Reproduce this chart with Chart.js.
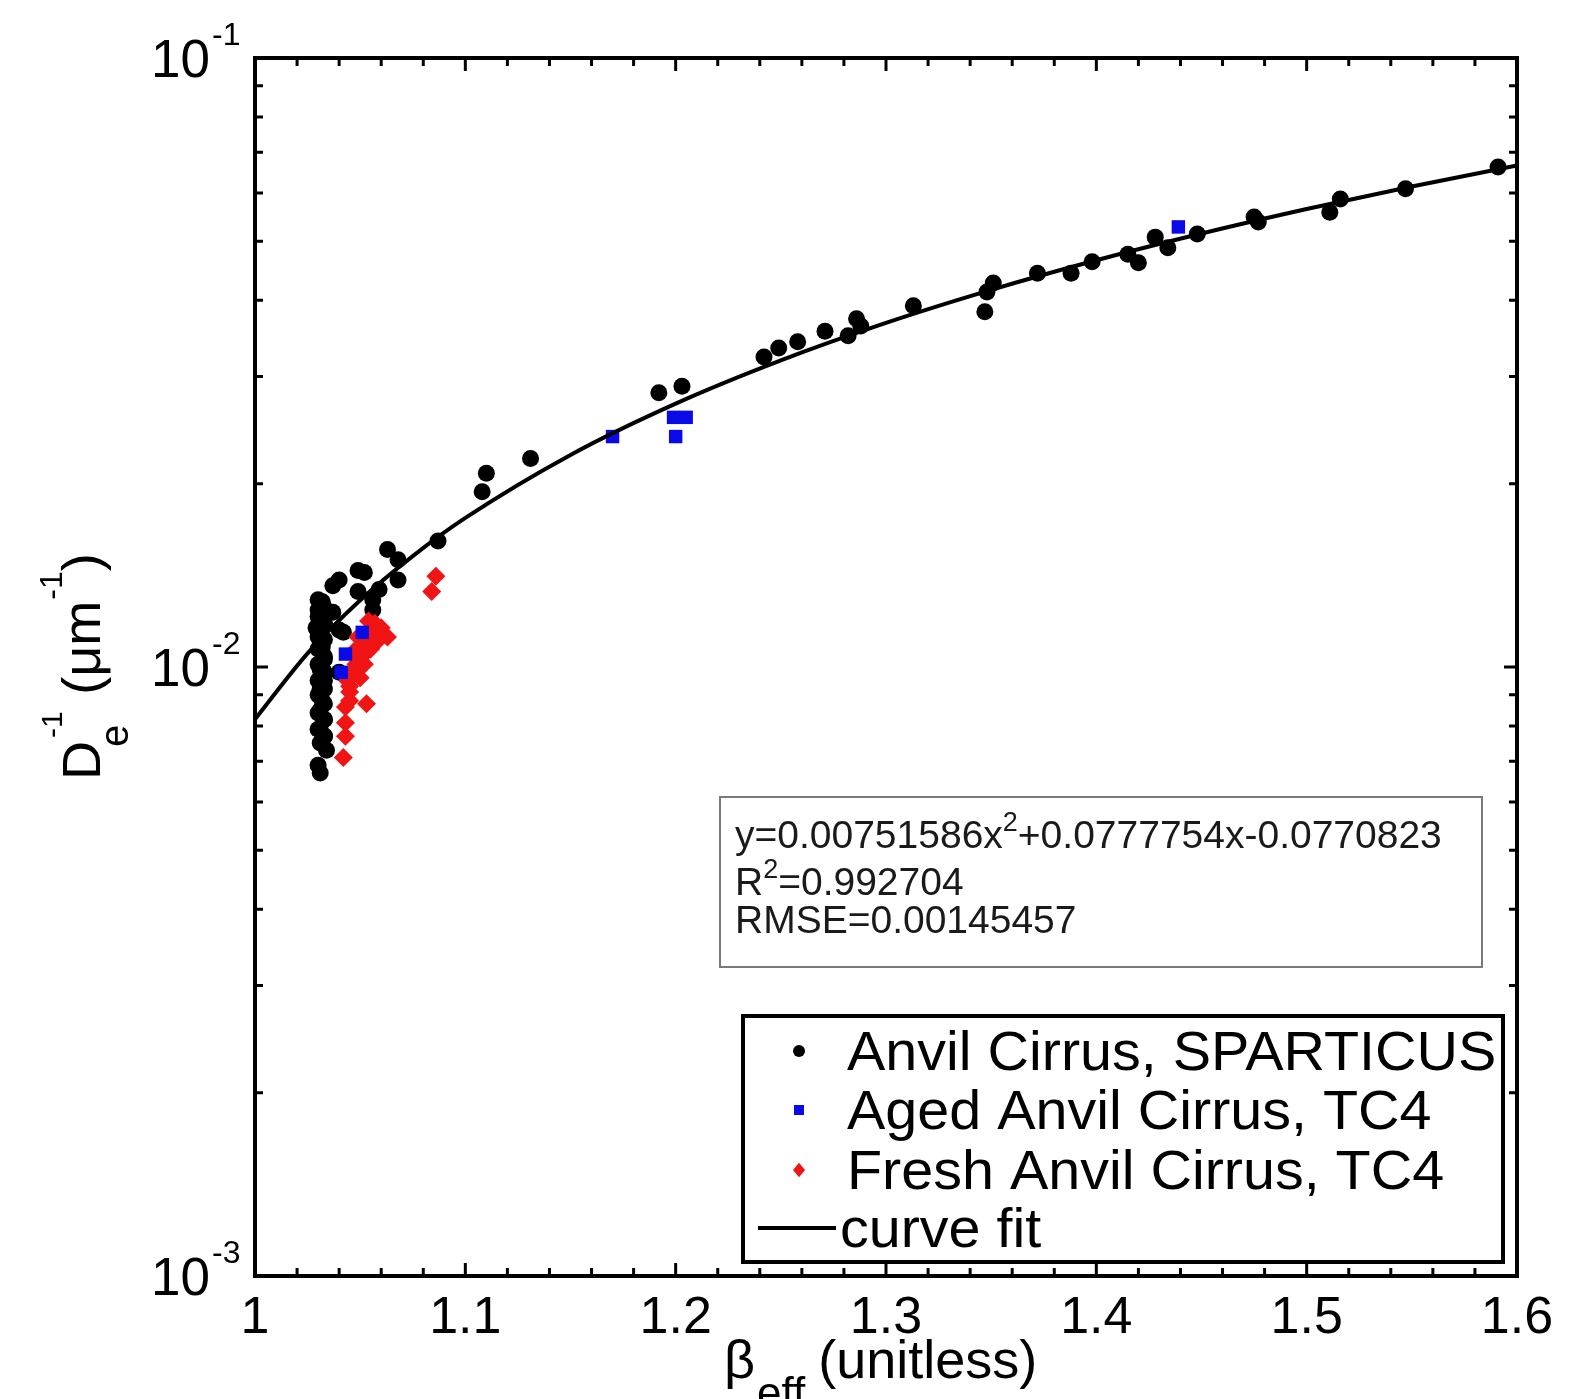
<!DOCTYPE html>
<html lang="en">
<head>
<meta charset="UTF-8" />
<title>De-1 vs beta_eff</title>
<script src="https://cdn.jsdelivr.net/npm/chart.js"></script>
<style>
  html, body { margin: 0; padding: 0; background: #fff; }
  #wrap { width: 1585px; height: 1399px; }
</style>
</head>
<body>
<div id="wrap"><canvas id="chart" width="1585" height="1399"></canvas></div>
<script>
  // values
  const sparticusX = [1.591, 1.547, 1.516, 1.511, 1.475, 1.477, 1.448, 1.428, 1.434, 1.415, 1.420, 1.398, 1.388, 1.372,
    1.351, 1.348, 1.347, 1.313, 1.286, 1.288, 1.282, 1.271, 1.258, 1.249, 1.242, 1.203, 1.192, 1.131, 1.110, 1.108,
    1.087, 1.063, 1.068, 1.068, 1.049, 1.052, 1.040, 1.037, 1.049, 1.059, 1.056, 1.032, 1.030, 1.037, 1.056, 1.032,
    1.040, 1.042, 1.030, 1.029, 1.032, 1.031, 1.033, 1.031, 1.033, 1.031, 1.032, 1.031, 1.033, 1.031, 1.033, 1.034,
    1.030, 1.031, 1.040,
    1.030, 1.033, 1.030, 1.033, 1.030, 1.033, 1.030, 1.033, 1.030, 1.033, 1.030, 1.033, 1.030, 1.033, 1.030, 1.033,
    1.030, 1.033, 1.031];
  const sparticusY = [0.0662, 0.0610, 0.0587, 0.0558, 0.0548, 0.0538, 0.0514, 0.0508, 0.0488, 0.0476, 0.0461, 0.0463, 0.0443, 0.0443,
    0.0427, 0.0413, 0.0383, 0.0392, 0.0373, 0.0363, 0.0350, 0.0356, 0.0342, 0.0334, 0.0323, 0.0289, 0.0282, 0.0220, 0.0208, 0.0194,
    0.0161, 0.0156, 0.0150, 0.0139, 0.0144, 0.0143, 0.0139, 0.0136, 0.0133, 0.0134, 0.0129, 0.0128, 0.0124, 0.0123, 0.0124, 0.0118,
    0.0115, 0.0114, 0.0112, 0.0116, 0.0108, 0.0107, 0.0103, 0.0099, 0.0095, 0.0092, 0.0088, 0.0085, 0.0082, 0.0079, 0.0077, 0.0073,
    0.0069, 0.0067, 0.0098,
    0.0129, 0.0125, 0.0121, 0.0118, 0.0114, 0.0111, 0.0107, 0.0104, 0.0101, 0.0098, 0.0095, 0.0092, 0.0090, 0.0087, 0.0084, 0.0082,
    0.0079, 0.0077, 0.0075];

  const agedX = [1.439, 1.199, 1.205, 1.200, 1.170, 1.051, 1.043, 1.041];
  const agedY = [0.0528, 0.0257, 0.0257, 0.0239, 0.0239, 0.0114, 0.0105, 0.0098];

  const freshX = [1.086, 1.084, 1.054, 1.058, 1.063, 1.059, 1.056, 1.051, 1.053, 1.052, 1.050, 1.048, 1.048,
    1.050, 1.045, 1.045, 1.045, 1.043, 1.053, 1.043, 1.043, 1.042,
    1.047, 1.055, 1.049, 1.046, 1.052, 1.044, 1.060, 1.057];
  const freshY = [0.0141, 0.0133, 0.0119, 0.0115, 0.0112, 0.0111, 0.0113, 0.0108, 0.0110, 0.0105, 0.0103, 0.0101, 0.0099,
    0.0096, 0.0093, 0.0091, 0.0088, 0.0086, 0.0087, 0.0081, 0.0077, 0.0071,
    0.0106, 0.0107, 0.0112, 0.0098, 0.0101, 0.0095, 0.0116, 0.0118];

  const fitX = [1.00, 1.025, 1.05, 1.075, 1.10, 1.15, 1.20, 1.25, 1.30, 1.35, 1.40, 1.45, 1.50, 1.55, 1.60];
  const fitY = [0.00821, 0.01053, 0.01287, 0.01521, 0.01757, 0.02230, 0.02707, 0.03188, 0.03673, 0.04161,
    0.04654, 0.05149, 0.05649, 0.06153, 0.06660];

  const xTicks = [1, 1.1, 1.2, 1.3, 1.4, 1.5, 1.6];
  const xTickLabels = ['1', '1.1', '1.2', '1.3', '1.4', '1.5', '1.6'];
  const yTicks = [0.001, 0.01, 0.1];
  const yTickExp = ['-3', '-2', '-1'];

  const FONT = '"Liberation Sans", Arial, Helvetica, sans-serif';
  const pts = (xs, ys) => xs.map((v, i) => ({ x: v, y: ys[i] }));

  // text with sub/superscripts, drawn piece by piece
  function rich(ctx, parts, x, y) {
    let cx = x;
    parts.forEach(p => {
      ctx.font = p.size + 'px ' + FONT;
      ctx.fillText(p.t, cx + (p.dx || 0), y + (p.dy || 0));
      if (!p.keep) cx += (p.dx || 0) + ctx.measureText(p.t).width;
    });
    return cx;
  }

  function marker(ctx, style, x, y, r, color) {
    ctx.fillStyle = color;
    ctx.beginPath();
    if (style === 'circle') ctx.arc(x, y, r, 0, Math.PI * 2);
    else if (style === 'rect') ctx.rect(x - r, y - r, 2 * r, 2 * r);
    else { ctx.moveTo(x, y - r * 1.2); ctx.lineTo(x + r, y); ctx.lineTo(x, y + r * 1.2); ctx.lineTo(x - r, y); ctx.closePath(); }
    ctx.fill();
  }

  const frame = {
    id: 'frame',
    afterDatasetsDraw(chart) {
      const { ctx, chartArea: a, scales: { x, y } } = chart;
      ctx.save();
      ctx.strokeStyle = '#000';
      ctx.lineWidth = 3;
      ctx.beginPath();
      const xt = (v, len) => {
        const px = x.getPixelForValue(v);
        ctx.moveTo(px, a.bottom); ctx.lineTo(px, a.bottom - len);
        ctx.moveTo(px, a.top); ctx.lineTo(px, a.top + len);
      };
      const yt = (v, len) => {
        const py = y.getPixelForValue(v);
        ctx.moveTo(a.left, py); ctx.lineTo(a.left + len, py);
        ctx.moveTo(a.right, py); ctx.lineTo(a.right - len, py);
      };
      for (let i = 1; i < 30; i++) if (i % 5) xt(1 + i * 0.02, 8);
      xTicks.forEach(v => xt(v, 13));
      for (let e = -3; e < -1; e++) for (let m = 2; m <= 9; m++) yt(m * Math.pow(10, e), 8);
      yTicks.forEach(v => yt(v, 13));
      ctx.stroke();
      ctx.lineWidth = 4;
      ctx.strokeRect(a.left, a.top, a.right - a.left, a.bottom - a.top);
      ctx.restore();
    },
    afterDraw(chart) {
      const { ctx, chartArea: a, scales: { x, y } } = chart;
      ctx.save();
      ctx.fillStyle = '#000';
      ctx.textBaseline = 'alphabetic';

      // x tick labels
      ctx.font = '52px ' + FONT;
      ctx.textAlign = 'center';
      xTicks.forEach((v, i) => ctx.fillText(xTickLabels[i], x.getPixelForValue(v), a.bottom + 57));

      // y tick labels 10^n
      yTicks.forEach((v, i) => {
        const py = y.getPixelForValue(v);
        ctx.font = '53px ' + FONT;
        ctx.textAlign = 'right';
        ctx.fillText('10', a.left - 45, py + 19);
        ctx.font = '32px ' + FONT;
        ctx.textAlign = 'left';
        ctx.fillText(yTickExp[i], a.left - 43, py - 13);
      });

      // x title
      ctx.textAlign = 'left';
      rich(ctx, [
        { t: 'β', size: 54 },
        { t: 'eff', size: 44, dy: 30, dx: 2 },
        { t: ' (unitless)', size: 54, dx: -2 }
      ], 724, 1378);

      // y title (rotated)
      ctx.save();
      ctx.translate(100, 780);
      ctx.rotate(-Math.PI / 2);
      rich(ctx, [
        { t: 'D', size: 54 },
        { t: '-1', size: 30, dy: -38, dx: 3, keep: true },
        { t: 'e', size: 40, dy: 28, dx: -6 },
        { t: '  (μm', size: 54 },
        { t: '-1', size: 32, dy: -38, dx: 1 },
        { t: ')', size: 54 }
      ], 0, 0);
      ctx.restore();

      // fit statistics box
      ctx.fillStyle = '#fff';
      ctx.fillRect(720, 797, 762, 170);
      ctx.strokeStyle = '#7a7a7a';
      ctx.lineWidth = 2;
      ctx.strokeRect(720, 797, 762, 170);
      ctx.fillStyle = '#1a1a1a';
      rich(ctx, [
        { t: 'y=0.00751586x', size: 39 },
        { t: '2', size: 27, dy: -17 },
        { t: '+0.0777754x-0.0770823', size: 39 }
      ], 735, 848);
      rich(ctx, [
        { t: 'R', size: 39 },
        { t: '2', size: 27, dy: -17 },
        { t: '=0.992704', size: 39 }
      ], 735, 895);
      rich(ctx, [{ t: 'RMSE=0.00145457', size: 39 }], 735, 933);

      // legend
      ctx.fillStyle = '#fff';
      ctx.fillRect(743, 1016, 760, 246);
      ctx.strokeStyle = '#000';
      ctx.lineWidth = 4;
      ctx.strokeRect(743, 1016, 760, 246);
      const ds = chart.data.datasets;
      const label = (txt, lx, ly) => {
        ctx.save();
        ctx.translate(lx, ly);
        ctx.scale(1.045, 1);
        ctx.fillStyle = '#000';
        ctx.font = '55px ' + FONT;
        ctx.fillText(txt, 0, 0);
        ctx.restore();
      };
      const rows = [
        { d: ds[3], cy: 1051, style: 'circle', r: 6 },
        { d: ds[1], cy: 1110, style: 'rect', r: 5 },
        { d: ds[2], cy: 1170, style: 'diamond', r: 6 }
      ];
      rows.forEach(rw => {
        marker(ctx, rw.style, 799, rw.cy, rw.r, rw.d.backgroundColor);
        label(rw.d.label, 847, rw.cy + 19);
      });
      ctx.strokeStyle = '#000';
      ctx.lineWidth = 4;
      ctx.beginPath();
      ctx.moveTo(758, 1228); ctx.lineTo(836, 1228);
      ctx.stroke();
      label(ds[0].label, 840, 1247);
      ctx.restore();
    }
  };

  // dataset 0 is drawn last (on top), dataset 3 first
  new Chart(document.getElementById('chart'), {
    type: 'scatter',
    data: {
      datasets: [
        {
          label: 'curve fit',
          type: 'line',
          data: pts(fitX, fitY),
          borderColor: '#000',
          borderWidth: 4,
          pointRadius: 0,
          cubicInterpolationMode: 'monotone',
          fill: false
        },
        {
          label: 'Aged Anvil Cirrus, TC4',
          data: pts(agedX, agedY),
          pointStyle: 'rect',
          pointRadius: 9.5,
          backgroundColor: '#0a0ae8',
          borderWidth: 0
        },
        {
          label: 'Fresh Anvil Cirrus, TC4',
          data: pts(freshX, freshY),
          pointStyle: 'rectRot',
          pointRadius: 9.5,
          backgroundColor: '#f01414',
          borderWidth: 0
        },
        {
          label: 'Anvil Cirrus, SPARTICUS',
          data: pts(sparticusX, sparticusY),
          pointStyle: 'circle',
          pointRadius: 8.5,
          backgroundColor: '#000',
          borderWidth: 0
        }
      ]
    },
    options: {
      responsive: false,
      animation: false,
      events: [],
      layout: { padding: { left: 255, top: 58, right: 68, bottom: 123 } },
      scales: {
        x: { type: 'linear', min: 1, max: 1.6, display: false },
        y: { type: 'logarithmic', min: 0.001, max: 0.1, display: false }
      },
      plugins: { legend: { display: false }, tooltip: { enabled: false } }
    },
    plugins: [frame]
  });
</script>
</body>
</html>
